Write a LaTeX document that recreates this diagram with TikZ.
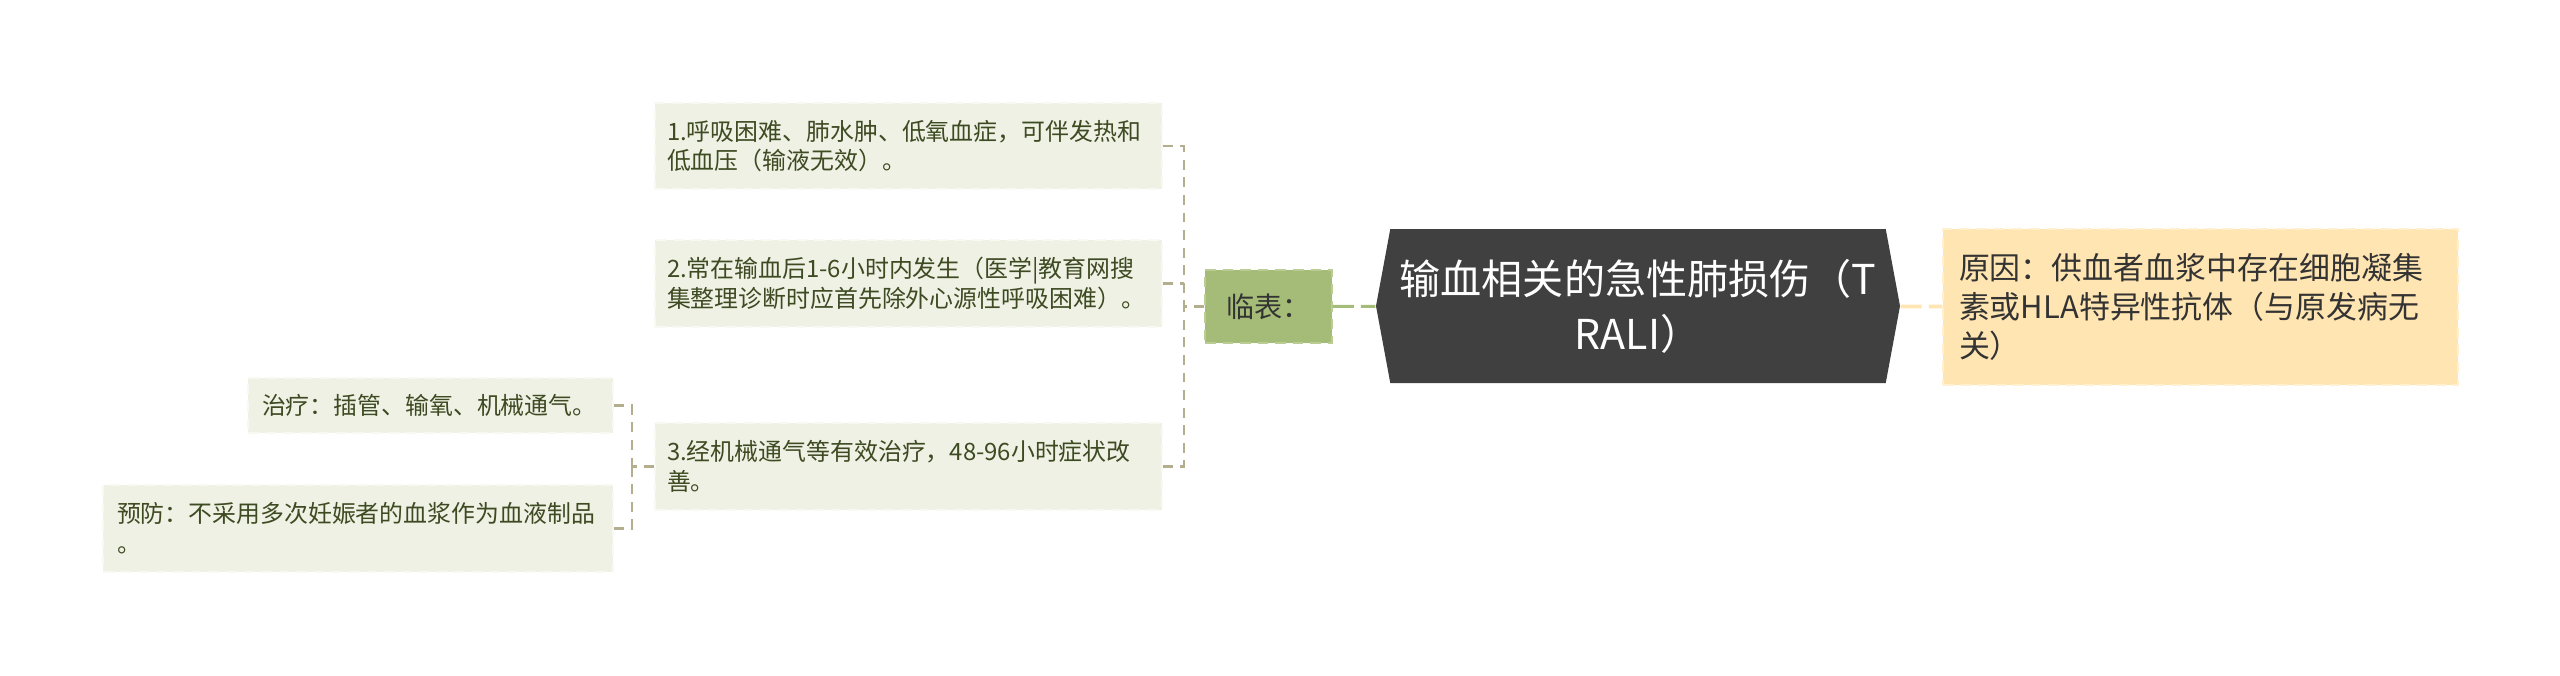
\documentclass[tikz,border=0pt]{standalone}
\usepackage{fontspec}
\setmainfont{Noto Sans CJK SC}
\usepackage{tikz}
\usetikzlibrary{shapes, arrows, positioning}
\definecolor{rootfill}{HTML}{404040}
\definecolor{causefill}{HTML}{FFE5B2}
\definecolor{causeedge}{HTML}{FFF0D2}
\definecolor{hubfill}{HTML}{A5BC78}
\definecolor{hubedge}{HTML}{BACD95}
\definecolor{leaffill}{HTML}{EEF1E4}
\definecolor{leafedge}{HTML}{F8F9F3}
\definecolor{leaftext}{HTML}{3E4A22}
\definecolor{branchline}{HTML}{B3AF8E}
\tikzstyle{root} = [signal, signal to=east and west, signal pointer angle=159, fill=rootfill, text=white, align=center, minimum width=5.24cm, minimum height=1.54cm, inner sep=0pt, font=\fontsize{11.7pt}{15.6pt}\selectfont]
\tikzstyle{cause} = [rectangle, fill=causefill, draw=causeedge, dash pattern=on 3pt off 2pt, text=black!80, align=left, text width=4.83cm, inner xsep=0.16cm, minimum height=1.56cm, font=\fontsize{8.8pt}{11.1pt}\selectfont]
\tikzstyle{hub} = [rectangle, fill=hubfill, draw=hubedge, dash pattern=on 3pt off 2pt, text=black!80, minimum width=1.27cm, minimum height=0.73cm, inner sep=0pt, font=\fontsize{8pt}{9.6pt}\selectfont]
\tikzstyle{leaf} = [rectangle, fill=leaffill, draw=leafedge, dash pattern=on 3pt off 2pt, text=leaftext, align=left, text width=4.83cm, inner xsep=0.12cm, inner ysep=0pt, minimum height=0.87cm, font=\fontsize{6.8pt}{8.5pt}\selectfont]
\tikzstyle{line} = [draw]
\tikzstyle{branch} = [line, branchline, line width=0.6pt, dash pattern=on 2.8pt off 2.2pt]
\tikzstyle{stem} = [line, hubfill, line width=0.9pt, dash pattern=on 6pt off 2pt]
\tikzstyle{stemy} = [line, causefill, line width=1.1pt, dash pattern=on 6pt off 2pt]

\begin{document}
\begin{tikzpicture}
			\useasboundingbox (0,0) rectangle (25.6,-6.75);
			\node [root] (trali) at (16.38,-3.06) {输血相关的急性肺损伤（T\\RALI）};
			\node [cause] (cause) at (22.005,-3.07) {原因：供血者血浆中存在细胞凝集\\素或HLA特异性抗体（与原发病无\\关）};
			\node [hub] (lin) at (12.685,-3.065) {临表：};
			
			\node [leaf, minimum height=0.86cm] (s1) at (9.085,-1.46) {1.呼吸困难、肺水肿、低氧血症，可伴发热和\\低血压（输液无效）。};
			\node [leaf] (s2) at (9.085,-2.835) {2.常在输血后1-6小时内发生（医学|教育网搜\\集整理诊断时应首先除外心源性呼吸困难）。};
			\node [leaf] (s3) at (9.085,-4.665) {3.经机械通气等有效治疗，48-96小时症状改\\善。};
			\node [leaf, text width=3.37cm, inner xsep=0.14cm, minimum height=0.55cm] (treat) at (4.305,-4.055) {治疗：插管、输氧、机械通气。};
			\node [leaf, text width=4.82cm, inner xsep=0.14cm] (prev) at (3.58,-5.285) {预防：不采用多次妊娠者的血浆作为血液制品\\。};
			
			\coordinate (j1) at (11.84,-3.065);
			\coordinate (j2) at (6.32,-4.665);
			
			\path [stem] (lin) -- (trali);
			\path [stemy] (trali) -- (cause);
			\path [branch] (lin) -- (j1);
			\path [branch] (s1.east) -| (j1);
			\path [branch] (s2.east) -- (s2.east -| j1);
			\path [branch] (s3.east) -| (j1);
			\path [branch] (s3.west) -- (j2);
			\path [branch] (treat.east) -| (j2);
			\path [branch] (prev.east) -| (j2);
		\end{tikzpicture}
\end{document}
